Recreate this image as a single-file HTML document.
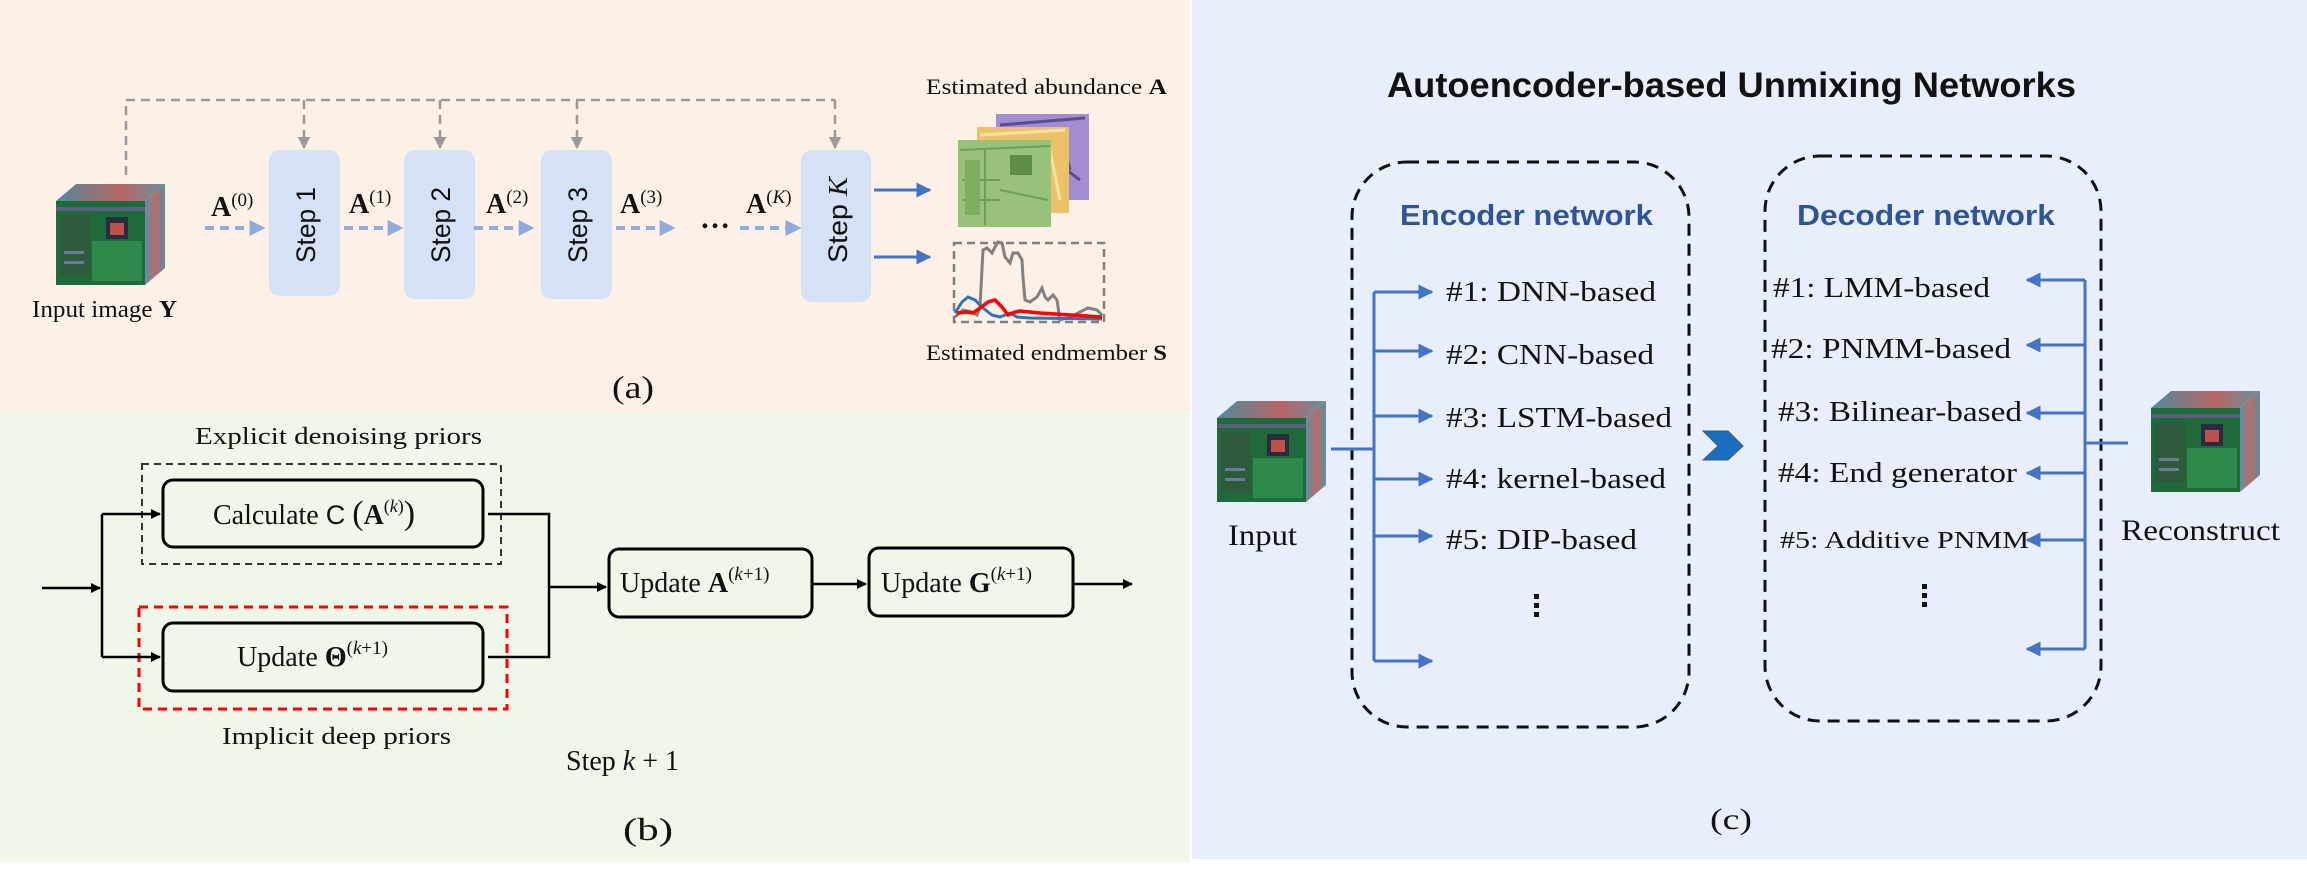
<!DOCTYPE html>
<html><head><meta charset="utf-8"><style>
html,body{margin:0;padding:0;background:#fff;}
svg{display:block;}
.s{font-family:"Liberation Serif",serif;fill:#111;}
.ss{font-family:"Liberation Sans",sans-serif;fill:#111;}
</style></head><body>
<svg width="2307" height="872" viewBox="0 0 2307 872" xmlns="http://www.w3.org/2000/svg">
<defs>
  <marker id="ab" viewBox="0 0 10 10" refX="9" refY="5" markerWidth="4" markerHeight="4" orient="auto" markerUnits="strokeWidth"><path d="M0,0L10,5L0,10z" fill="#8eaadf"/></marker>
  <marker id="ag" viewBox="0 0 10 10" refX="9" refY="5" markerWidth="5" markerHeight="5" orient="auto" markerUnits="strokeWidth"><path d="M0,0L10,5L0,10z" fill="#9a9a9a"/></marker>
  <marker id="ad" viewBox="0 0 10 10" refX="9" refY="5" markerWidth="5" markerHeight="5" orient="auto" markerUnits="strokeWidth"><path d="M0,0L10,5L0,10z" fill="#4472c4"/></marker>
  <marker id="ak" viewBox="0 0 10 10" refX="9" refY="5" markerWidth="4" markerHeight="4" orient="auto" markerUnits="strokeWidth"><path d="M0,0L10,5L0,10z" fill="#000"/></marker>
  <linearGradient id="side" x1="0" x2="1" y1="0" y2="0"><stop offset="0" stop-color="#5e8fa8"/><stop offset="0.5" stop-color="#b86a6a"/><stop offset="1" stop-color="#5a8f9a"/></linearGradient>
  <linearGradient id="top" x1="0" x2="1" y1="0" y2="0"><stop offset="0" stop-color="#4f8a9e"/><stop offset="0.6" stop-color="#b86565"/><stop offset="1" stop-color="#6a8fa0"/></linearGradient>
  <g id="cube">
    <polygon points="0,0 20,-17 109,-17 89,0" fill="url(#top)"/>
    <polygon points="89,0 109,-17 109,67 89,84" fill="url(#side)"/>
    <rect x="0" y="0" width="89" height="84" fill="#1f6a3a"/>
    <rect x="0" y="6" width="89" height="4" fill="#5a5f80"/>
    <rect x="4" y="14" width="30" height="60" fill="#2d5a3a"/>
    <rect x="50" y="16" width="22" height="22" fill="#2a2a40"/>
    <rect x="54" y="22" width="14" height="12" fill="#c0504a"/>
    <rect x="36" y="40" width="50" height="40" fill="#2e8a4a"/>
    <rect x="8" y="50" width="20" height="3" fill="#6a7a9a"/>
    <rect x="8" y="60" width="20" height="3" fill="#6a7a9a"/>
  </g>
</defs>

<!-- backgrounds -->
<rect x="0" y="0" width="1190" height="413" fill="#fdf0e6"/>
<rect x="0" y="413" width="1190" height="449" fill="#eff6ea"/>
<rect x="1192" y="0" width="1115" height="859" fill="#e8eefb"/>

<!-- ============ PANEL A ============ -->
<!-- gray dashed feedback -->
<g stroke="#9a9a9a" stroke-width="2.5" fill="none" stroke-dasharray="9,6">
  <path d="M126,175 V100 H835"/>
  <path d="M304,100 V148" marker-end="url(#ag)"/>
  <path d="M440,100 V148" marker-end="url(#ag)"/>
  <path d="M577,100 V148" marker-end="url(#ag)"/>
  <path d="M835,100 V148" marker-end="url(#ag)"/>
</g>
<use href="#cube" x="56" y="201"/>
<text class="s" x="32" y="317" font-size="24" textLength="145" lengthAdjust="spacingAndGlyphs">Input image <tspan font-weight="bold">Y</tspan></text>

<!-- step boxes -->
<g fill="#d5e1f5">
  <rect x="269" y="150" width="71" height="146" rx="11"/>
  <rect x="404" y="150" width="71" height="149" rx="11"/>
  <rect x="541" y="150" width="71" height="149" rx="11"/>
  <rect x="801" y="150" width="70" height="152" rx="11"/>
</g>
<g class="ss" font-size="27">
  <text transform="translate(315,263) rotate(-90)" textLength="76" lengthAdjust="spacingAndGlyphs">Step 1</text>
  <text transform="translate(450,263) rotate(-90)" textLength="76" lengthAdjust="spacingAndGlyphs">Step 2</text>
  <text transform="translate(587,263) rotate(-90)" textLength="76" lengthAdjust="spacingAndGlyphs">Step 3</text>
  <text transform="translate(847,263) rotate(-90)" textLength="86" lengthAdjust="spacingAndGlyphs">Step <tspan font-style="italic" font-family="Liberation Serif">K</tspan></text>
</g>
<!-- blue dashed arrows -->
<g stroke="#8eaadf" stroke-width="4" fill="none" stroke-dasharray="9,6">
  <path d="M205,228 H264" marker-end="url(#ab)"/>
  <path d="M344,228 H402" marker-end="url(#ab)"/>
  <path d="M474,228 H533" marker-end="url(#ab)"/>
  <path d="M616,228 H674" marker-end="url(#ab)"/>
  <path d="M740,228 H800" marker-end="url(#ab)"/>
</g>
<g class="s">
  <text x="211" y="216" font-size="28" font-weight="bold">A<tspan font-weight="normal" font-size="19" dy="-10">(0)</tspan></text>
  <text x="349" y="213" font-size="28" font-weight="bold">A<tspan font-weight="normal" font-size="19" dy="-10">(1)</tspan></text>
  <text x="486" y="213" font-size="28" font-weight="bold">A<tspan font-weight="normal" font-size="19" dy="-10">(2)</tspan></text>
  <text x="620" y="213" font-size="28" font-weight="bold">A<tspan font-weight="normal" font-size="19" dy="-10">(3)</tspan></text>
  <text x="746" y="213" font-size="28" font-weight="bold">A<tspan font-weight="normal" font-size="19" dy="-10">(<tspan font-style="italic">K</tspan>)</tspan></text>
  <text x="700" y="228" font-size="30" font-weight="bold">…</text>
</g>
<!-- solid blue out arrows -->
<g stroke="#4472c4" stroke-width="3" fill="none">
  <path d="M874,190 H930" marker-end="url(#ad)"/>
  <path d="M874,257 H930" marker-end="url(#ad)"/>
</g>
<!-- abundance maps -->
<rect x="996" y="114" width="93" height="86" fill="#a08ed0"/>
<path d="M1000,125 L1085,118 M1040,150 L1080,180 M1060,130 L1070,170" stroke="#5e4d8a" stroke-width="3"/>
<rect x="977" y="127" width="92" height="86" fill="#ecc168"/>
<path d="M980,135 L1065,130 M1050,150 L1060,200" stroke="#f8e0a0" stroke-width="3"/>
<rect x="958" y="140" width="93" height="87" fill="#98c17a"/>
<rect x="1010" y="155" width="22" height="20" fill="#5f8f45"/>
<path d="M960,150 L1050,146 M985,150 L985,225 M962,180 L1000,180 M962,200 L1000,200 M1000,190 L1048,200" stroke="#6f9f55" stroke-width="2"/>
<rect x="965" y="160" width="15" height="55" fill="#80ad62"/>
<text class="s" x="926" y="94" font-size="22" textLength="241" lengthAdjust="spacingAndGlyphs">Estimated abundance <tspan font-weight="bold">A</tspan></text>
<!-- endmember -->
<rect x="954" y="243" width="150" height="79" fill="none" stroke="#7f7f7f" stroke-width="2.5" stroke-dasharray="8,5"/>
<polyline fill="none" stroke="#808080" stroke-width="3" points="955,317 963,310 972,312 977,315 980,307 983,250 987,248 992,253 995,247 998,242 1002,243 1005,257 1010,263 1013,253 1018,253 1022,260 1023,277 1025,300 1030,302 1037,297 1042,288 1045,297 1048,300 1053,295 1057,300 1060,320 1070,317 1080,312 1088,308 1097,310 1102,315"/>
<polyline fill="none" stroke="#2e75b6" stroke-width="3" points="955,313 962,302 968,297 975,300 983,308 992,315 1000,317 1010,313 1017,317 1030,318 1102,319"/>
<polyline fill="none" stroke="#ff0000" stroke-width="3.5" points="957,313 967,312 973,313 980,308 988,302 995,300 1002,307 1008,315 1015,312 1020,311 1040,313 1102,317"/>
<text class="s" x="926" y="360" font-size="22" textLength="241" lengthAdjust="spacingAndGlyphs">Estimated endmember <tspan font-weight="bold">S</tspan></text>
<text class="s" x="612" y="398" font-size="32" textLength="42" lengthAdjust="spacingAndGlyphs">(a)</text>

<!-- ============ PANEL B ============ -->
<text class="s" x="195" y="444" font-size="24" textLength="287" lengthAdjust="spacingAndGlyphs">Explicit denoising priors</text>
<rect x="142" y="464" width="359" height="100" fill="none" stroke="#333" stroke-width="2" stroke-dasharray="7,5"/>
<rect x="139" y="607" width="368" height="102" fill="none" stroke="#ff0000" stroke-width="3" stroke-dasharray="9,6"/>
<g fill="none" stroke="#000" stroke-width="3">
  <rect x="163" y="480" width="320" height="67" rx="10"/>
  <rect x="163" y="623" width="320" height="68" rx="10"/>
  <rect x="609" y="549" width="203" height="68" rx="10"/>
  <rect x="869" y="548" width="204" height="68" rx="10"/>
</g>
<g fill="none" stroke="#000" stroke-width="2.5">
  <path d="M42,588 H100" marker-end="url(#ak)"/>
  <path d="M102,514 V657"/>
  <path d="M102,514 H160" marker-end="url(#ak)"/>
  <path d="M102,657 H160" marker-end="url(#ak)"/>
  <path d="M488,514 H549 V657 H488"/>
  <path d="M549,587 H606" marker-end="url(#ak)"/>
  <path d="M812,584 H866" marker-end="url(#ak)"/>
  <path d="M1073,584 H1132" marker-end="url(#ak)"/>
</g>
<g class="s">
  <text x="213" y="524" font-size="28">Calculate <tspan font-family="Liberation Sans" font-size="27">C</tspan> <tspan font-size="34">(</tspan><tspan font-weight="bold">A</tspan><tspan font-size="18" dy="-12">(<tspan font-style="italic">k</tspan>)</tspan><tspan font-size="34" dy="12">)</tspan></text>
  <text x="237" y="666" font-size="28">Update <tspan font-weight="bold">Θ</tspan><tspan font-size="19" dy="-12">(<tspan font-style="italic">k</tspan>+1)</tspan></text>
  <text x="620" y="592" font-size="28">Update <tspan font-weight="bold">A</tspan><tspan font-size="19" dy="-12">(<tspan font-style="italic">k</tspan>+1)</tspan></text>
  <text x="881" y="592" font-size="28">Update <tspan font-weight="bold">G</tspan><tspan font-size="19" dy="-12">(<tspan font-style="italic">k</tspan>+1)</tspan></text>
  <text x="222" y="744" font-size="24" textLength="229" lengthAdjust="spacingAndGlyphs">Implicit deep priors</text>
  <text x="566" y="770" font-size="28">Step <tspan font-style="italic">k</tspan> + 1</text>
  <text x="623" y="840" font-size="32" textLength="50" lengthAdjust="spacingAndGlyphs">(b)</text>
</g>

<!-- ============ PANEL C ============ -->
<text class="ss" x="1387" y="97" font-size="35" font-weight="bold" textLength="689" lengthAdjust="spacingAndGlyphs">Autoencoder-based Unmixing Networks</text>
<g fill="none" stroke="#111" stroke-width="3" stroke-dasharray="12,8">
  <rect x="1352" y="162" width="337" height="565" rx="55"/>
  <rect x="1765" y="156" width="336" height="565" rx="55"/>
</g>
<g font-family="Liberation Sans, sans-serif" font-weight="bold" fill="#2f5597" font-size="29">
  <text x="1400" y="225" textLength="253" lengthAdjust="spacingAndGlyphs">Encoder network</text>
  <text x="1797" y="225" textLength="258" lengthAdjust="spacingAndGlyphs">Decoder network</text>
</g>
<!-- encoder arrows -->
<g fill="none" stroke="#4472c4" stroke-width="3">
  <path d="M1331,449 H1374"/>
  <path d="M1374,292 V661"/>
  <path d="M1374,292 H1432" marker-end="url(#ad)"/>
  <path d="M1374,351 H1432" marker-end="url(#ad)"/>
  <path d="M1374,416 H1432" marker-end="url(#ad)"/>
  <path d="M1374,479 H1432" marker-end="url(#ad)"/>
  <path d="M1374,536 H1432" marker-end="url(#ad)"/>
  <path d="M1374,661 H1432" marker-end="url(#ad)"/>
</g>
<g class="s" font-size="29">
  <text x="1446" y="301" textLength="210" lengthAdjust="spacingAndGlyphs">#1: DNN-based</text>
  <text x="1446" y="364" textLength="208" lengthAdjust="spacingAndGlyphs">#2: CNN-based</text>
  <text x="1446" y="427" textLength="226" lengthAdjust="spacingAndGlyphs">#3: LSTM-based</text>
  <text x="1446" y="488" textLength="220" lengthAdjust="spacingAndGlyphs">#4: kernel-based</text>
  <text x="1446" y="549" textLength="191" lengthAdjust="spacingAndGlyphs">#5: DIP-based</text>
</g>
<g fill="#111"><rect x="1534" y="594" width="5" height="5"/><rect x="1534" y="603" width="5" height="5"/><rect x="1534" y="612" width="5" height="5"/></g>
<use href="#cube" x="1217" y="418"/>
<text class="s" x="1228" y="545" font-size="30" textLength="69" lengthAdjust="spacingAndGlyphs">Input</text>
<!-- chevron -->
<polygon points="1703,431 1728,431 1743,446 1728,460 1703,460 1718,446" fill="#1a6fc0" stroke="#3b5a80" stroke-width="1"/>
<!-- decoder arrows -->
<g fill="none" stroke="#4472c4" stroke-width="3">
  <path d="M2128,443 H2085"/>
  <path d="M2085,280 V649"/>
  <path d="M2085,280 H2027" marker-end="url(#ad)"/>
  <path d="M2085,345 H2027" marker-end="url(#ad)"/>
  <path d="M2085,413 H2027" marker-end="url(#ad)"/>
  <path d="M2085,473 H2027" marker-end="url(#ad)"/>
  <path d="M2085,540 H2027" marker-end="url(#ad)"/>
  <path d="M2085,649 H2027" marker-end="url(#ad)"/>
</g>
<g class="s" font-size="29">
  <text x="1773" y="297" textLength="217" lengthAdjust="spacingAndGlyphs">#1: LMM-based</text>
  <text x="1771" y="358" textLength="240" lengthAdjust="spacingAndGlyphs">#2: PNMM-based</text>
  <text x="1778" y="421" textLength="244" lengthAdjust="spacingAndGlyphs">#3: Bilinear-based</text>
  <text x="1778" y="482" textLength="239" lengthAdjust="spacingAndGlyphs">#4: End generator</text>
  <text x="1780" y="548" font-size="24" textLength="249" lengthAdjust="spacingAndGlyphs">#5: Additive PNMM</text>
</g>
<g fill="#111"><rect x="1922" y="584" width="5" height="5"/><rect x="1922" y="593" width="5" height="5"/><rect x="1922" y="602" width="5" height="5"/></g>
<use href="#cube" x="2151" y="408"/>
<text class="s" x="2121" y="540" font-size="30" textLength="159" lengthAdjust="spacingAndGlyphs">Reconstruct</text>
<text class="s" x="1710" y="829" font-size="30" textLength="42" lengthAdjust="spacingAndGlyphs">(c)</text>
</svg>
</body></html>
